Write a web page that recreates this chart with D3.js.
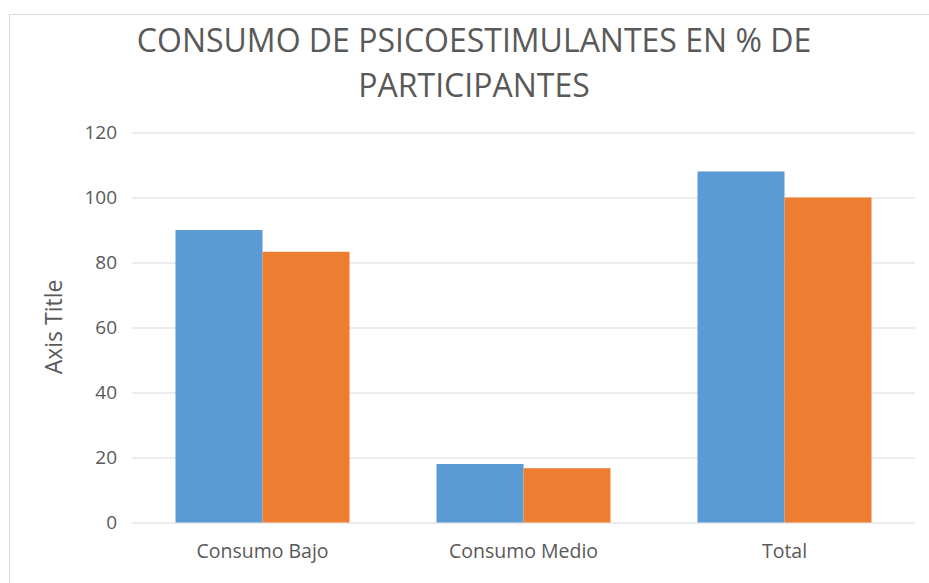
<!DOCTYPE html>
<html>
<head>
<meta charset="utf-8">
<script src="https://cdn.jsdelivr.net/npm/d3@7"></script>
<style>
  html, body { margin: 0; padding: 0; background: #fff; }
  svg { display: block; }
  text { font-family: "Open Sans", "Noto Sans", sans-serif; fill: #595959; }
</style>
</head>
<body>
<svg id="chart" width="929" height="583"></svg>
<script>
const categories = ["Consumo Bajo", "Consumo Medio", "Total"];
const seriesNames = ["Serie 1", "Serie 2"];
const series1 = [90, 18, 108];
const series2 = [83.3, 16.7, 100];
const yTicks = [0, 20, 40, 60, 80, 100, 120];
const titleLines = ["CONSUMO DE PSICOESTIMULANTES EN % DE", "PARTICIPANTES"];
const yAxisTitle = "Axis Title";
const colors = ["#5b9bd5", "#ed7d31"];

const svg = d3.select("#chart");
const W = 929, H = 583;
const margin = { left: 132, right: 14, top: 132.5, bottom: 60.5 };

// chart border
svg.append("rect")
  .attr("x", 9.5).attr("y", 14.5)
  .attr("width", W + 10).attr("height", H + 10)
  .attr("fill", "#fff").attr("stroke", "#d9d9d9").attr("stroke-width", 1);

const x0 = d3.scaleBand()
  .domain(categories)
  .range([margin.left, W - margin.right])
  .paddingInner(1/3)
  .paddingOuter(1/6);

const x1 = d3.scaleBand()
  .domain(seriesNames)
  .range([0, x0.bandwidth()]);

const y = d3.scaleLinear()
  .domain([0, 120])
  .range([H - margin.bottom, margin.top]);

// gridlines
const yAxis = d3.axisLeft(y)
  .tickValues(yTicks)
  .tickSize(-(W - margin.right - margin.left))
  .tickPadding(15);
const gy = svg.append("g")
  .attr("transform", `translate(${margin.left},0)`)
  .call(yAxis);
gy.select(".domain").remove();
gy.selectAll(".tick line").attr("stroke", "#d9d9d9").attr("stroke-width", 1);
gy.selectAll(".tick text")
  .style("font-size", "19px")
  .attr("fill", "#595959");

// bars
const data = categories.map((c, i) => ({ cat: c, vals: [series1[i], series2[i]] }));
const groups = svg.append("g").selectAll("g")
  .data(data).join("g")
  .attr("transform", d => `translate(${x0(d.cat)},0)`);
groups.selectAll("rect")
  .data(d => d.vals.map((v, j) => ({ name: seriesNames[j], v, j })))
  .join("rect")
  .attr("x", d => x1(d.name))
  .attr("width", x1.bandwidth())
  .attr("y", d => y(d.v))
  .attr("height", d => y(0) - y(d.v))
  .attr("fill", d => colors[d.j]);

// x axis labels
const xAxis = d3.axisBottom(x0).tickSize(0).tickPadding(22);
const gx = svg.append("g")
  .attr("transform", `translate(0,${y(0)})`)
  .call(xAxis);
gx.select(".domain").remove();
gx.selectAll(".tick text")
  .style("font-size", "19.5px")
  .attr("fill", "#595959");

// title
svg.append("g").selectAll("text")
  .data(titleLines).join("text")
  .attr("x", 474)
  .attr("y", (d, i) => 52 + i * 45)
  .attr("text-anchor", "middle")
  .style("font-size", "32px")
  .text(d => d);

// y axis title
svg.append("text")
  .attr("transform", `translate(62,327) rotate(-90)`)
  .attr("text-anchor", "middle")
  .style("font-size", "23px")
  .text(yAxisTitle);
</script>
</body>
</html>
